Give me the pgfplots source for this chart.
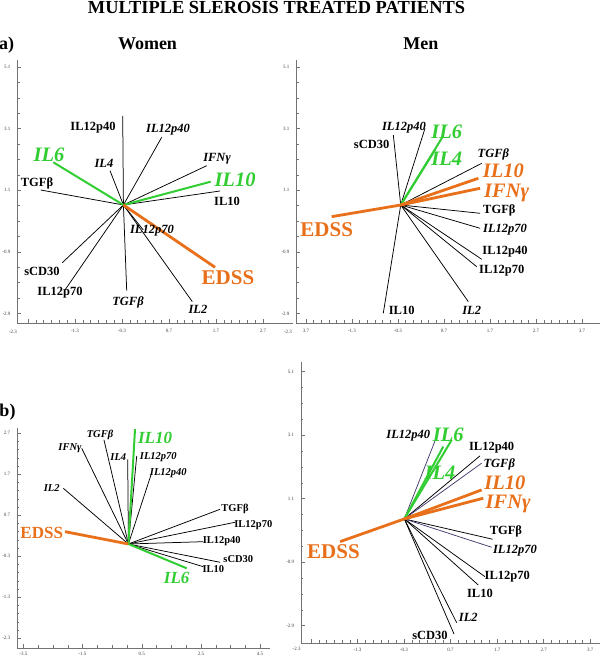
\documentclass[border=0pt]{standalone}
\usepackage{pgfplots}
\pgfplotsset{compat=1.18}
\usepackage{fontspec}
\setmainfont{Liberation Serif}
\definecolor{myor}{RGB}{232,112,26}
\definecolor{mygr}{RGB}{50,205,50}
\definecolor{mypu}{RGB}{70,60,110}
\newcommand{\sm}{\fontsize{12.5}{14}\selectfont\bfseries}
\newcommand{\smi}{\fontsize{12.5}{14}\selectfont\bfseries\itshape}
\newcommand{\bgi}{\fontsize{20.5}{24}\selectfont\bfseries\itshape}
\newcommand{\bgu}{\fontsize{21}{24}\selectfont\bfseries}
\newcommand{\ssm}{\fontsize{10.5}{12}\selectfont\bfseries}
\newcommand{\ssmi}{\fontsize{10.5}{12}\selectfont\bfseries\itshape}
\newcommand{\mbgi}{\fontsize{17}{20}\selectfont\bfseries\itshape}
\newcommand{\mbgu}{\fontsize{17}{20}\selectfont\bfseries}
\pgfplotsset{
  bp/.style={scale only axis, anchor=south west, axis lines*=left,
    axis line style={black!55,-}, clip=false,
    every tick/.style={black!55}, major tick length=4pt, minor tick length=2.5pt,
    tick align=inside,
    ticklabel style={font=\fontsize{5}{6}\selectfont, text=black!75},
    xticklabel style={yshift=-3pt}, yticklabel style={xshift=-3pt},
    /pgf/number format/assume math mode=true},
  bl/.style={black, line width=0.75pt},
  pu/.style={mypu, line width=0.75pt},
  gr/.style={mygr, line width=2pt},
  og/.style={myor, line width=2.8pt},
}
\begin{document}
\begin{tikzpicture}
\useasboundingbox (0pt,0pt) rectangle (600pt,658pt);
\node[font=\fontsize{18.4}{20}\selectfont\bfseries] at (276.5pt,650pt) {MULTIPLE SLEROSIS TREATED PATIENTS};
\node[font=\fontsize{18}{20}\selectfont\bfseries] at (147.5pt,614.5pt) {Women};
\node[font=\fontsize{18}{20}\selectfont\bfseries] at (420.8pt,614.5pt) {Men};
\node[font=\fontsize{18}{20}\selectfont\bfseries] at (6.5pt,613pt) {a)};
\node[font=\fontsize{18}{20}\selectfont\bfseries] at (7.5pt,246pt) {b)};

% ---------- Women ----------
\begin{axis}[bp, at={(17pt,335pt)}, width=276pt, height=263pt,
  xmin=-2.534, xmax=3.338, ymin=-3.212, ymax=5.327,
  xtick={-2.3,-1.3,-0.3,0.7,1.7,2.7}, xticklabels={,-1.3,-0.3,0.7,1.7,2.7},
  minor x tick num=5,
  ytick={-2.9,-0.9,1.1,3.1,5.1}, yticklabels={-2.9,-0.9,1.1,3.1,5.1},
  minor y tick num=3]
\addplot[bl] coordinates {(-0.27,0.62) (-0.285,3.509)};
\addplot[bl] coordinates {(-0.27,0.62) (0.545,2.818)};
\addplot[bl] coordinates {(-0.27,0.62) (-0.555,1.733)};
\addplot[bl] coordinates {(-0.27,0.62) (-2.030,1.106)};
\addplot[bl] coordinates {(-0.27,0.62) (1.502,1.895)};
\addplot[bl] coordinates {(-0.27,0.62) (1.785,1.074)};
\addplot[bl] coordinates {(-0.27,0.62) (0.153,-0.192)};
\addplot[bl] coordinates {(-0.27,0.62) (-0.2,-2.163)};
\addplot[bl] coordinates {(-0.27,0.62) (1.196,-2.520)};
\addplot[bl] coordinates {(-0.27,0.62) (-1.570,-1.254)};
\addplot[bl] coordinates {(-0.27,0.62) (-1.513,-2.140)};
\addplot[gr] coordinates {(-0.27,0.62) (-1.762,2.006)};
\addplot[gr] coordinates {(-0.27,0.62) (1.587,1.376)};
\addplot[og] coordinates {(-0.27,0.62) (1.679,-1.403)};
\node[font=\sm] at (axis cs:-0.917,3.119) {IL12p40};
\node[font=\smi] at (axis cs:0.679,3.055) {IL12p40};
\node[font=\smi] at (axis cs:-0.683,1.983) {IL4};
\node[font=\bgi, text=mygr] at (axis cs:-1.853,2.243) {IL6};
\node[font=\sm] at (axis cs:-2.109,1.334) {TGFβ};
\node[font=\smi] at (axis cs:1.721,2.113) {IFNγ};
\node[font=\bgi, text=mygr] at (axis cs:2.104,1.431) {IL10};
\node[font=\sm] at (axis cs:1.934,0.749) {IL10};
\node[font=\smi] at (axis cs:0.338,-0.225) {IL12p70};
\node[font=\bgu, text=myor] at (axis cs:1.955,-1.751) {EDSS};
\node[font=\smi] at (axis cs:-0.172,-2.530) {TGFβ};
\node[font=\smi] at (axis cs:1.317,-2.757) {IL2};
\node[font=\sm] at (axis cs:-2.002,-1.523) {sCD30};
\node[font=\sm] at (axis cs:-1.619,-2.238) {IL12p70};
\node[font=\fontsize{5}{6}\selectfont, text=black!75, xshift=-4pt, yshift=-9pt] at (rel axis cs:0,0) {-2.3};
\end{axis}

% ---------- Men (top) ----------
\begin{axis}[bp, at={(296pt,335pt)}, width=304pt, height=263pt,
  xmin=-2.517, xmax=4.09, ymin=-3.212, ymax=5.327,
  xtick={-2.3,-1.3,-0.3,0.7,1.7,2.7,3.7}, xticklabels={3.7,-1.3,-0.3,0.7,1.7,2.7,3.7},
  minor x tick num=5,
  ytick={-2.9,-0.9,1.1,3.1,5.1}, yticklabels={-2.9,-0.9,1.1,3.1,5.1},
  minor y tick num=3]
\addplot[bl] coordinates {(-0.241,0.619) (-0.402,2.892)};
\addplot[bl] coordinates {(-0.241,0.619) (0.287,3.110)};
\addplot[bl] coordinates {(-0.241,0.619) (1.520,1.973)};
\addplot[bl] coordinates {(-0.241,0.619) (1.483,0.350)};
\addplot[bl] coordinates {(-0.241,0.619) (1.483,-0.137)};
\addplot[bl] coordinates {(-0.241,0.619) (1.520,-1.144)};
\addplot[bl] coordinates {(-0.241,0.619) (1.411,-1.384)};
\addplot[bl] coordinates {(-0.241,0.619) (1.228,-2.520)};
\addplot[bl] coordinates {(-0.241,0.619) (-0.620,-2.897)};
\addplot[gr] coordinates {(-0.241,0.619) (0.672,2.837)};
\addplot[gr] coordinates {(-0.241,0.619) (0.504,2.405)};
\addplot[og] coordinates {(-0.241,0.619) (1.446,1.486)};
\addplot[og] coordinates {(-0.241,0.619) (1.483,1.162)};
\addplot[og] coordinates {(-0.241,0.619) (-1.741,0.240)};
\node[font=\sm] at (axis cs:-0.872,2.600) {sCD30};
\node[font=\smi] at (axis cs:-0.170,3.142) {IL12p40};
\node[font=\bgi, text=mygr] at (axis cs:0.759,3.0) {IL6};
\node[font=\bgi, text=mygr] at (axis cs:0.759,2.113) {IL4};
\node[font=\smi] at (axis cs:1.772,2.275) {TGFβ};
\node[font=\bgi, text=myor] at (axis cs:1.989,1.74) {IL10};
\node[font=\bgi, text=myor] at (axis cs:2.063,1.0) {IFNγ};
\node[font=\sm] at (axis cs:1.902,0.457) {TGFβ};
\node[font=\smi] at (axis cs:2.026,-0.169) {IL12p70};
\node[font=\sm] at (axis cs:2.026,-0.897) {IL12p40};
\node[font=\sm] at (axis cs:1.954,-1.514) {IL12p70};
\node[font=\smi] at (axis cs:1.302,-2.790) {IL2};
\node[font=\sm] at (axis cs:-0.220,-2.790) {IL10};
\node[font=\bgu, text=myor] at (axis cs:-1.850,-0.192) {EDSS};
\node[font=\fontsize{5}{6}\selectfont, text=black!75, xshift=-8pt, yshift=-9pt] at (rel axis cs:0,0) {-2.3};
\end{axis}

% ---------- Women (bottom) ----------
\begin{axis}[bp, at={(16.7pt,10pt)}, width=253.3pt, height=220pt,
  xticklabel style={yshift=2pt},
  xmin=-3.723, xmax=4.834, ymin=-2.537, ymax=2.829,
  xtick={-3.5,-1.5,0.5,2.5,4.5}, xticklabels={-3.5,-1.5,0.5,2.5,4.5},
  minor x tick num=3,
  ytick={-2.3,-1.3,-0.3,0.7,1.7,2.7}, yticklabels={-2.3,-1.3,-0.3,0.7,1.7,2.7},
  minor y tick num=4]
\addplot[bl] coordinates {(0.05,0.0) (-0.774,2.537)};
\addplot[bl] coordinates {(0.05,0.0) (-1.527,2.334)};
\addplot[bl] coordinates {(0.05,0.0) (0.027,2.066)};
\addplot[bl] coordinates {(0.05,0.0) (0.331,2.146)};
\addplot[bl] coordinates {(0.05,0.0) (0.838,1.739)};
\addplot[bl] coordinates {(0.05,0.0) (-2.149,1.359)};
\addplot[bl] coordinates {(0.05,0.0) (3.145,0.846)};
\addplot[bl] coordinates {(0.05,0.0) (3.652,0.529)};
\addplot[bl] coordinates {(0.05,0.0) (2.581,0.056)};
\addplot[bl] coordinates {(0.05,0.0) (3.145,-0.446)};
\addplot[bl] coordinates {(0.05,0.0) (2.581,-0.554)};
\addplot[gr] coordinates {(0.05,0.0) (0.274,2.8)};
\addplot[gr] coordinates {(0.05,0.0) (2.020,-0.593)};
\addplot[og] coordinates {(0.05,0.0) (-2.091,0.300)};
\node[font=\mbgi, text=mygr] at (axis cs:0.949,2.578) {IL10};
\node[font=\ssmi] at (axis cs:-0.909,2.659) {TGFβ};
\node[font=\ssmi] at (axis cs:-1.922,2.334) {IFNγ};
\node[font=\ssmi] at (axis cs:-0.291,2.115) {IL4};
\node[font=\ssmi] at (axis cs:1.061,2.115) {IL12p70};
\node[font=\ssmi] at (axis cs:1.399,1.724) {IL12p40};
\node[font=\ssmi] at (axis cs:-2.541,1.373) {IL2};
\node[font=\mbgu, text=myor] at (axis cs:-2.878,0.261) {EDSS};
\node[font=\ssm] at (axis cs:3.652,0.854) {TGFβ};
\node[font=\ssm] at (axis cs:4.270,0.463) {IL12p70};
\node[font=\ssm] at (axis cs:3.203,0.073) {IL12p40};
\node[font=\ssm] at (axis cs:3.764,-0.366) {sCD30};
\node[font=\ssm] at (axis cs:2.919,-0.617) {IL10};
\node[font=\mbgi, text=mygr] at (axis cs:1.682,-0.837) {IL6};
\end{axis}

% ---------- Men (bottom) ----------
\begin{axis}[bp, at={(300.7pt,15pt)}, width=299.3pt, height=281.3pt,
  xticklabel style={yshift=1pt},
  xmin=-2.52, xmax=3.91, ymin=-3.445, ymax=5.41,
  xtick={-2.3,-1.3,-0.3,0.7,1.7,2.7,3.7}, xticklabels={,-1.3,-0.3,0.7,1.7,2.7,3.7},
  minor x tick num=5,
  ytick={-2.9,-0.9,1.1,3.1,5.1}, yticklabels={-2.9,-0.9,1.1,3.1,5.1},
  minor y tick num=3]
\addplot[bl] coordinates {(-0.294,0.461) (1.331,2.445)};
\addplot[bl] coordinates {(-0.294,0.461) (1.603,-0.179)};
\addplot[bl] coordinates {(-0.294,0.461) (1.438,-1.357)};
\addplot[bl] coordinates {(-0.294,0.461) (1.294,-1.618)};
\addplot[bl] coordinates {(-0.294,0.461) (0.831,-2.806)};
\addplot[bl] coordinates {(-0.294,0.461) (0.773,-3.161)};
\addplot[pu] coordinates {(-0.294,0.461) (0.402,3.053)};
\addplot[pu] coordinates {(-0.294,0.461) (1.367,2.215)};
\addplot[pu] coordinates {(-0.294,0.461) (1.582,-0.431)};
\addplot[gr] coordinates {(-0.294,0.461) (0.724,2.949)};
\addplot[gr] coordinates {(-0.294,0.461) (0.543,2.738)};
\addplot[og] coordinates {(-0.294,0.461) (1.367,1.374)};
\addplot[og] coordinates {(-0.294,0.461) (1.402,1.113)};
\addplot[og] coordinates {(-0.294,0.461) (-1.673,-0.254)};
\node[font=\smi] at (axis cs:-0.208,3.075) {IL12p40};
\node[font=\bgi, text=mygr] at (axis cs:0.651,3.106) {IL6};
\node[font=\sm] at (axis cs:1.582,2.719) {IL12p40};
\node[font=\smi] at (axis cs:1.745,2.161) {TGFβ};
\node[font=\bgi, text=mygr] at (axis cs:0.473,1.900) {IL4};
\node[font=\bgi, text=myor] at (axis cs:1.867,1.60) {IL10};
\node[font=\bgi, text=myor] at (axis cs:1.938,0.93) {IFNγ};
\node[font=\sm] at (axis cs:1.889,0.061) {TGFβ};
\node[font=\smi] at (axis cs:2.082,-0.538) {IL12p70};
\node[font=\sm] at (axis cs:1.917,-1.357) {IL12p70};
\node[font=\sm] at (axis cs:1.331,-1.880) {IL10};
\node[font=\smi] at (axis cs:1.080,-2.635) {IL2};
\node[font=\sm] at (axis cs:0.258,-3.193) {sCD30};
\node[font=\bgu, text=myor] at (axis cs:-1.817,-0.569) {EDSS};
\node[font=\fontsize{5}{6}\selectfont, text=black!75, xshift=-4pt, yshift=-6pt] at (rel axis cs:0,0) {-2.3};
\end{axis}
\end{tikzpicture}
\end{document}
